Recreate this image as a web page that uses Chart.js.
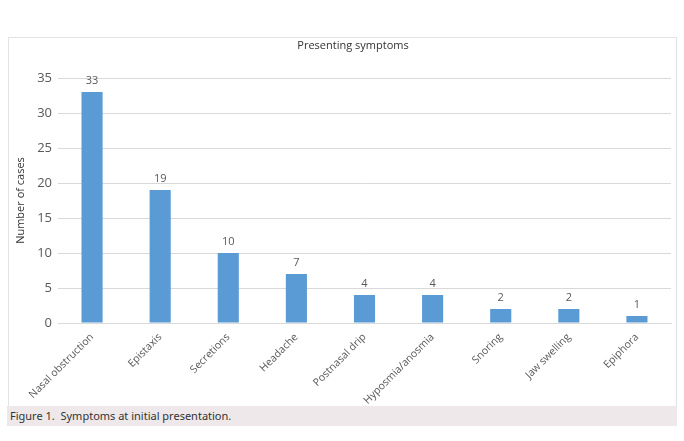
<!DOCTYPE html>
<html>
<head>
<meta charset="utf-8">
<script src="https://cdn.jsdelivr.net/npm/chart.js@4"></script>
<style>
  html, body { margin: 0; padding: 0; background: #fff; }
  body { width: 684px; height: 441px; position: relative; overflow: hidden; }
  #box { position: absolute; left: 8px; top: 37px; width: 667px; height: 368px; border: 1px solid #e3e3e3; border-bottom: none; }
  #box canvas { display: block; }
  #cap { position: absolute; left: 7px; top: 406px; width: 670px; height: 20px; background: #eee8ea;
         font-family: "Noto Sans", "Open Sans", sans-serif; font-size: 11px; color: #333; line-height: 20px; padding-left: 3px; box-sizing: border-box; }
</style>
</head>
<body>
<div id="box"><canvas id="c" width="667" height="368"></canvas></div>
<div id="cap">Figure 1.&nbsp; Symptoms at initial presentation.</div>
<script>
const chartTitle = "Presenting symptoms";
const yAxisTitle = "Number of cases";
const categories = ["Nasal obstruction", "Epistaxis", "Secretions", "Headache", "Postnasal drip", "Hyposmia/anosmia", "Snoring", "Jaw swelling", "Epiphora"];
const cases = [33, 19, 10, 7, 4, 4, 2, 2, 1];
const yTicks = [0, 5, 10, 15, 20, 25, 30, 35];

const FONT = '"Open Sans", "Noto Sans", sans-serif';

const titlePlugin = {
  id: 'customTitle',
  afterDraw(chart) {
    const ctx = chart.ctx;
    ctx.save();
    ctx.font = '11px ' + FONT;
    ctx.fillStyle = '#333';
    ctx.textAlign = 'center';
    ctx.textBaseline = 'middle';
    ctx.fillText(chartTitle, 344, 8);
    ctx.restore();
  }
};

const valueLabels = {
  id: 'valueLabels',
  afterDatasetsDraw(chart) {
    const ctx = chart.ctx;
    const meta = chart.getDatasetMeta(0);
    ctx.save();
    ctx.font = '11px ' + FONT;
    ctx.fillStyle = '#595959';
    ctx.textAlign = 'center';
    ctx.textBaseline = 'bottom';
    meta.data.forEach((bar, i) => {
      ctx.fillText(String(cases[i]), bar.x, bar.y - 6);
    });
    ctx.restore();
  }
};

new Chart(document.getElementById('c'), {
  type: 'bar',
  data: {
    labels: categories,
    datasets: [{
      data: cases,
      backgroundColor: '#5b9bd5',
      borderWidth: 0,
      categoryPercentage: 1,
      barPercentage: 0.31
    }]
  },
  options: {
    responsive: false,
    animation: false,
    devicePixelRatio: 1,
    layout: { padding: { top: 40, right: 5, left: 0, bottom: 0 } },
    plugins: { legend: { display: false }, tooltip: { enabled: false }, title: { display: false } },
    scales: {
      x: {
        grid: { display: false, drawTicks: false },
        border: { display: true, color: '#d9d9d9' },
        ticks: { color: '#595959', font: { family: FONT, size: 10.5 }, minRotation: 45, maxRotation: 45, autoSkip: false, padding: 8 },
        afterFit(s) { s.height = 83; }
      },
      y: {
        min: 0, max: 35,
        afterBuildTicks(s) { s.ticks = yTicks.map(v => ({ value: v })); },
        grid: { color: '#d9d9d9', drawTicks: false },
        border: { display: false },
        ticks: { color: '#595959', font: { family: FONT, size: 13 }, padding: 6 },
        title: { display: true, text: yAxisTitle, color: '#333', font: { family: FONT, size: 11 }, padding: { top: 5, bottom: 0 } },
        afterFit(s) { s.width = 49; }
      }
    }
  },
  plugins: [titlePlugin, valueLabels]
});
</script>
</body>
</html>
